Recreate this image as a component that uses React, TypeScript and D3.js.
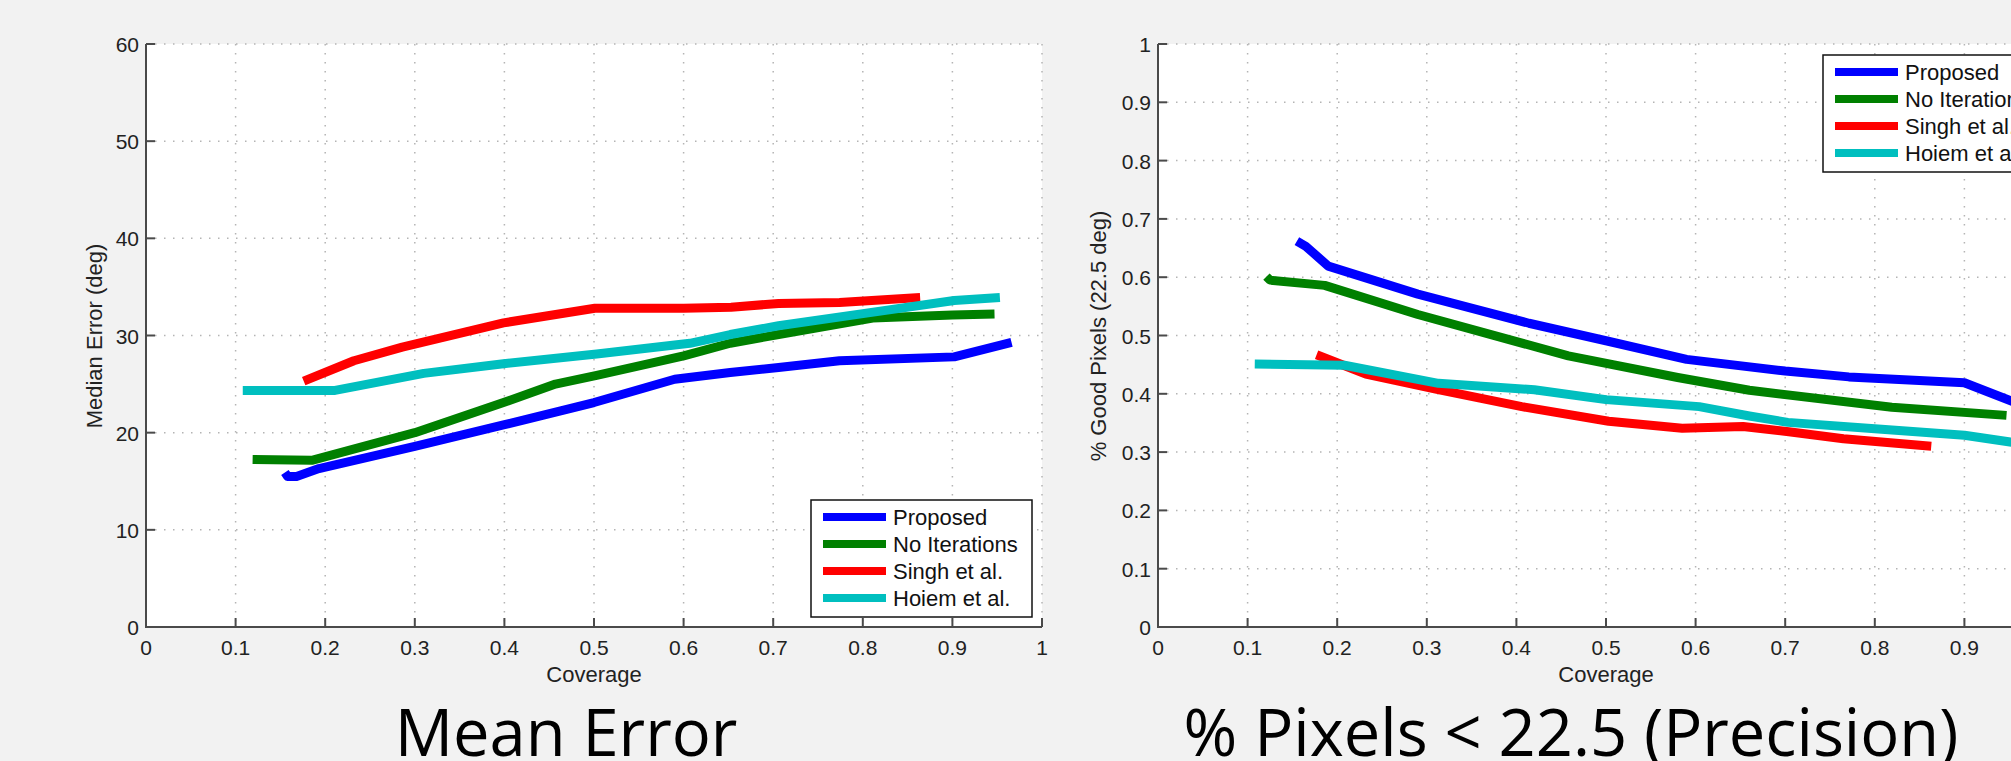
import * as d3 from "d3";
import React from "react";

// coverage axis shared by both panels
const coverageTicks = [0, 0.1, 0.2, 0.3, 0.4, 0.5, 0.6, 0.7, 0.8, 0.9, 1];
const errorTicks = [0, 10, 20, 30, 40, 50, 60];
const precisionTicks = [0, 0.1, 0.2, 0.3, 0.4, 0.5, 0.6, 0.7, 0.8, 0.9, 1];

const seriesNames = ["Proposed", "No Iterations", "Singh et al.", "Hoiem et al."];
const seriesColors = ["#0000ff", "#008000", "#ff0000", "#00bfbf"];

// Median error (deg) vs coverage
const proposedErrX = [0.155, 0.158, 0.168, 0.193, 0.3, 0.399, 0.421, 0.5, 0.59, 0.652, 0.706, 0.774, 0.902, 0.966];
const proposedErrY = [15.9, 15.5, 15.5, 16.3, 18.6, 20.8, 21.3, 23.1, 25.5, 26.2, 26.7, 27.4, 27.8, 29.3];
const noIterErrX = [0.119, 0.185, 0.3, 0.399, 0.457, 0.503, 0.6, 0.652, 0.706, 0.811, 0.9, 0.947];
const noIterErrY = [17.25, 17.15, 20.0, 23.1, 25.0, 25.9, 27.9, 29.2, 30.1, 31.8, 32.1, 32.2];
const singhErrX = [0.176, 0.232, 0.286, 0.399, 0.501, 0.6, 0.653, 0.706, 0.774, 0.864];
const singhErrY = [25.3, 27.4, 28.8, 31.3, 32.8, 32.8, 32.9, 33.3, 33.4, 33.9];
const hoiemErrX = [0.108, 0.211, 0.31, 0.399, 0.503, 0.607, 0.652, 0.706, 0.804, 0.902, 0.953];
const hoiemErrY = [24.35, 24.35, 26.1, 27.1, 28.1, 29.2, 30.1, 31.0, 32.3, 33.6, 33.9];

// % good pixels (22.5 deg) vs coverage
const proposedPrecX = [0.155, 0.165, 0.19, 0.29, 0.414, 0.5, 0.59, 0.7, 0.771, 0.9, 0.97];
const proposedPrecY = [0.662, 0.653, 0.619, 0.571, 0.521, 0.491, 0.459, 0.439, 0.429, 0.419, 0.377];
const noIterPrecX = [0.121, 0.125, 0.186, 0.29, 0.458, 0.58, 0.66, 0.819, 0.947];
const noIterPrecY = [0.601, 0.595, 0.586, 0.536, 0.465, 0.428, 0.406, 0.377, 0.363];
const singhPrecX = [0.177, 0.232, 0.31, 0.406, 0.503, 0.585, 0.653, 0.704, 0.765, 0.863];
const singhPrecY = [0.467, 0.434, 0.408, 0.378, 0.353, 0.341, 0.344, 0.335, 0.323, 0.31];
const hoiemPrecX = [0.108, 0.208, 0.313, 0.42, 0.5, 0.604, 0.66, 0.703, 0.8, 0.9, 0.97];
const hoiemPrecY = [0.451, 0.449, 0.418, 0.407, 0.39, 0.378, 0.362, 0.351, 0.34, 0.329, 0.313];

const zip = (xs: number[], ys: number[]) => xs.map((x, i) => [x, ys[i]] as [number, number]);

const W = 2011, H = 761;
const top = 44, bottom = 627, plotW = 896;
const axisFont = "'Liberation Sans', Arial, sans-serif";

type PanelProps = {
    left: number;
    yTicks: number[];
    yLabel: string;
    yLabelX: number;
    series: [number, number][][];
    legendDy: number;
    title: string;
    titleX: number;
};

const Panel = (p: PanelProps) => {
    const x = d3.scaleLinear().domain([0, 1]).range([p.left, p.left + plotW]);
    const y = d3.scaleLinear().domain([p.yTicks[0], p.yTicks[p.yTicks.length - 1]]).range([bottom, top]);
    const line = d3.line<[number, number]>().x(d => x(d[0])).y(d => y(d[1]));
    const fmt = (v: number) => String(+v.toFixed(1));
    const lx = p.left + 665, ly = top + p.legendDy;

    return (
        <g>
            <rect x={p.left} y={top} width={plotW} height={bottom - top} fill="#fff" />
            {coverageTicks.slice(1).map(t => (
                <line key={"gx" + t} x1={x(t)} x2={x(t)} y1={top} y2={bottom}
                      stroke="#b4b4b4" strokeWidth={1.5} strokeDasharray="1.5 7.5" />
            ))}
            {p.yTicks.slice(1).map(t => (
                <line key={"gy" + t} x1={p.left} x2={p.left + plotW} y1={y(t)} y2={y(t)}
                      stroke="#b4b4b4" strokeWidth={1.5} strokeDasharray="1.5 7.5" />
            ))}
            {p.series.map((s, i) => (
                <path key={i} d={line(s) || ""} fill="none" stroke={seriesColors[i]}
                      strokeWidth={9} strokeLinejoin="round" />
            ))}
            <path d={`M${p.left},${top}V${bottom}H${p.left + plotW}`} fill="none" stroke="#4a4a4a" strokeWidth={2} />
            {coverageTicks.map(t => (
                <g key={"tx" + t}>
                    <line x1={x(t)} x2={x(t)} y1={bottom} y2={bottom - 9} stroke="#4a4a4a" strokeWidth={2} />
                    <text x={x(t)} y={655} textAnchor="middle" fontSize={21} fontFamily={axisFont} fill="#222">{fmt(t)}</text>
                </g>
            ))}
            {p.yTicks.map(t => (
                <g key={"ty" + t}>
                    <line x1={p.left} x2={p.left + 9} y1={y(t)} y2={y(t)} stroke="#4a4a4a" strokeWidth={2} />
                    <text x={p.left - 7} y={y(t) + 8} textAnchor="end" fontSize={21} fontFamily={axisFont} fill="#222">{fmt(t)}</text>
                </g>
            ))}
            <text x={p.left + plotW / 2} y={682} textAnchor="middle" fontSize={22} fontFamily={axisFont} fill="#222">Coverage</text>
            <text transform={`translate(${p.yLabelX},336) rotate(-90)`} textAnchor="middle" fontSize={22}
                  fontFamily={axisFont} fill="#222">{p.yLabel}</text>

            <rect x={lx} y={ly} width={221} height={117} fill="#fff" stroke="#111" strokeWidth={1.5} />
            {seriesNames.map((n, i) => (
                <g key={n}>
                    <line x1={lx + 12} x2={lx + 75} y1={ly + 17 + i * 27} y2={ly + 17 + i * 27}
                          stroke={seriesColors[i]} strokeWidth={8} />
                    <text x={lx + 82} y={ly + 25 + i * 27} fontSize={22} fontFamily={axisFont} fill="#111">{n}</text>
                </g>
            ))}
            <text x={p.titleX} y={756} textAnchor="middle" fontSize={65}
                  fontFamily="'Open Sans', sans-serif" fill="#000">{p.title}</text>
        </g>
    );
};

export default function App() {
    return (
        <svg width={W} height={H} style={{ position: "absolute", left: 0, top: 0 }}>
            <rect width={W} height={H} fill="#f2f2f2" />
            <Panel left={146} yTicks={errorTicks} yLabel="Median Error (deg)" yLabelX={102}
                   series={[zip(proposedErrX, proposedErrY), zip(noIterErrX, noIterErrY),
                            zip(singhErrX, singhErrY), zip(hoiemErrX, hoiemErrY)]}
                   legendDy={456} title="Mean Error" titleX={566} />
            <Panel left={1158} yTicks={precisionTicks} yLabel="% Good Pixels (22.5 deg)" yLabelX={1106}
                   series={[zip(proposedPrecX, proposedPrecY), zip(noIterPrecX, noIterPrecY),
                            zip(singhPrecX, singhPrecY), zip(hoiemPrecX, hoiemPrecY)]}
                   legendDy={11} title="% Pixels < 22.5 (Precision)" titleX={1571} />
        </svg>
    );
}
